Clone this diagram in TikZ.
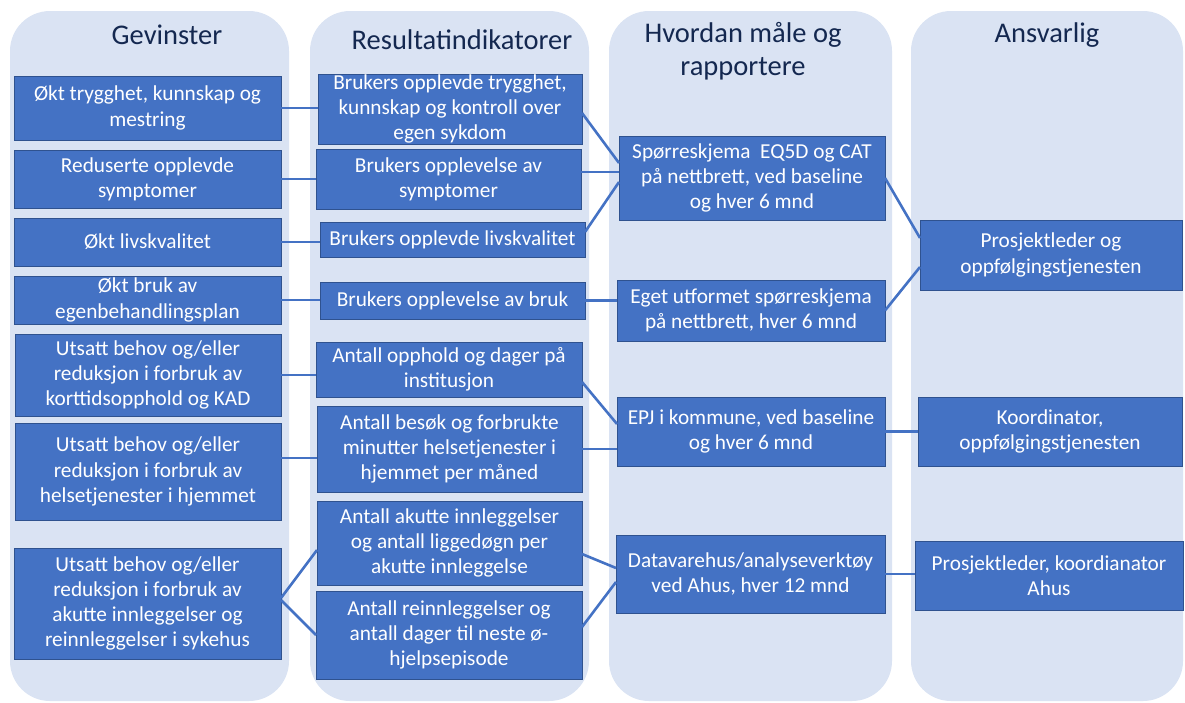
\documentclass[tikz,border=0pt]{standalone}
\usepackage{fontspec}
\setmainfont{Carlito}
\usetikzlibrary{calc}
\definecolor{colbg}{HTML}{DAE3F3}
\definecolor{boxfill}{HTML}{4472C4}
\definecolor{boxedge}{HTML}{2F528F}
\definecolor{headcol}{HTML}{142850}
\tikzset{
  colbox/.style={fill=colbg, draw=none, rounded corners=40pt},
  head/.style={text=headcol, font=\fontsize{28.5}{33}\selectfont, align=center, inner sep=0pt},
  box/.style={fill=boxfill, draw=boxedge, line width=1pt, text=white, align=center,
    inner sep=0pt, outer sep=0pt, font=\fontsize{21.3}{25.2}\selectfont},
  link/.style={draw=boxfill, line width=2.6pt}
}
\newcommand\bx[6]{\node[box, minimum width={(#4-#2)*1pt}, minimum height={(#5-#3)*1pt}] (#1) at ({(#2+#4)/2},{(#3+#5)/2}) {#6};}
\begin{document}
\begin{tikzpicture}[x=1pt,y=-1pt]
\useasboundingbox (0,0) rectangle (1185,702);
% columns
\fill[colbox] (10,11) rectangle (289,701);
\fill[colbox] (310,11) rectangle (589,701);
\fill[colbox] (609,11) rectangle (892,701);
\fill[colbox] (911,11) rectangle (1183,701);
% headers
\node[head] (hg) at (167,35) {Gevinster};
\node[head] (hr) at (462,40) {Resultatindikatorer};
\node[head] (hh) at (743,51) {Hvordan måle og\\rapportere};
\node[head] (ha) at (1047,35) {Ansvarlig};
% column 1
\bx{g1}{14}{76}{281}{140}{Økt trygghet, kunnskap og\\mestring}
\bx{g2}{14}{150}{281}{208}{Reduserte opplevde\\symptomer}
\bx{g3}{14}{218}{281}{266}{Økt livskvalitet}
\bx{g4}{14}{276}{281}{324}{Økt bruk av\\egenbehandlingsplan}
\bx{g5}{15}{334}{281}{416}{Utsatt behov og/eller\\reduksjon i forbruk av\\korttidsopphold og KAD}
\bx{g6}{15}{423}{281}{520}{Utsatt behov og/eller\\reduksjon i forbruk av\\helsetjenester i hjemmet}
\bx{g7}{14}{548}{281}{659}{Utsatt behov og/eller\\reduksjon i forbruk av\\akutte innleggelser og\\reinnleggelser i sykehus}
% column 2
\bx{r1}{318}{74}{582}{144}{Brukers opplevde trygghet,\\kunnskap og kontroll over\\egen sykdom}
\bx{r2}{316}{149}{581}{209}{Brukers opplevelse av\\symptomer}
\bx{r3}{320}{222}{585}{257}{Brukers opplevde livskvalitet}
\bx{r4}{320}{282}{585}{319}{Brukers opplevelse av bruk}
\bx{r5}{316}{342}{582}{397}{Antall opphold og dager på\\institusjon}
\bx{r6}{317}{406}{582}{492}{Antall besøk og forbrukte\\minutter helsetjenester i\\hjemmet per måned}
\bx{r7}{317}{501}{582}{585}{Antall akutte innleggelser\\og antall liggedøgn per\\akutte innleggelse}
\bx{r8}{316}{591}{582}{679}{Antall reinnleggelser og\\antall dager til neste ø-\\hjelpsepisode}
% column 3
\bx{h1}{619}{136}{885}{220}{Spørreskjema \ EQ5D og CAT\\på nettbrett, ved baseline\\og hver 6 mnd}
\bx{h2}{617}{280}{885}{341}{Eget utformet spørreskjema\\på nettbrett, hver 6 mnd}
\bx{h3}{617}{397}{885}{466}{EPJ i kommune, ved baseline\\og hver 6 mnd}
\bx{h4}{616}{535}{885}{613}{Datavarehus/analyseverktøy\\ved Ahus, hver 12 mnd}
% column 4
\bx{a1}{920}{220}{1182}{290}{Prosjektleder og\\oppfølgingstjenesten}
\bx{a2}{918}{397}{1182}{466}{Koordinator,\\oppfølgingstjenesten}
\bx{a3}{915}{541}{1183}{610}{Prosjektleder, koordianator\\Ahus}
% helper coordinate
\coordinate (c6) at ([yshift=13.5pt]g6.east);
% connectors col1 -> col2
\draw[link] (g1.east) -- (g1.east -| r1.west);
\draw[link] (g2.east) -- (g2.east -| r2.west);
\draw[link] (g3.east) -- (g3.east -| r3.west);
\draw[link] (g4.east) -- (g4.east -| r4.west);
\draw[link] (g5.east) -- (g5.east -| r5.west);
\draw[link] (c6) -- (c6 -| r6.west);
\draw[link] ([yshift=5.5pt]g7.east) -- ([yshift=-7pt]r7.west);
\draw[link] ([yshift=3.5pt]g7.east) -- (r8.west);
% col2 -> col3
\draw[link] ([yshift=-4pt]r1.east) -- ([yshift=15pt]h1.west);
\draw[link] ([yshift=7pt]r2.east) -- ([yshift=6pt]h1.west);
\draw[link] ([yshift=7.5pt]r3.east) -- ([yshift=-4pt]h1.west);
\draw[link] (r4.east) -- (r4.east -| h2.west);
\draw[link] ([yshift=-12.5pt]r5.east) -- ([yshift=7.5pt]h3.west);
\draw[link] (r6.east) -- (r6.east -| h3.west);
\draw[link] ([yshift=-11pt]r7.east) -- ([yshift=6pt]h4.west);
\draw[link] ([yshift=8pt]r8.east) -- ([yshift=-8pt]h4.west);
% col3 -> col4
\draw[link] (h1.east) -- ([yshift=17pt]a1.west);
\draw[link] (h2.east) -- ([yshift=-12pt]a1.west);
\draw[link] (h3.east) -- (h3.east -| a2.west);
\draw[link] (h4.east) -- (h4.east -| a3.west);
\end{tikzpicture}
\end{document}
